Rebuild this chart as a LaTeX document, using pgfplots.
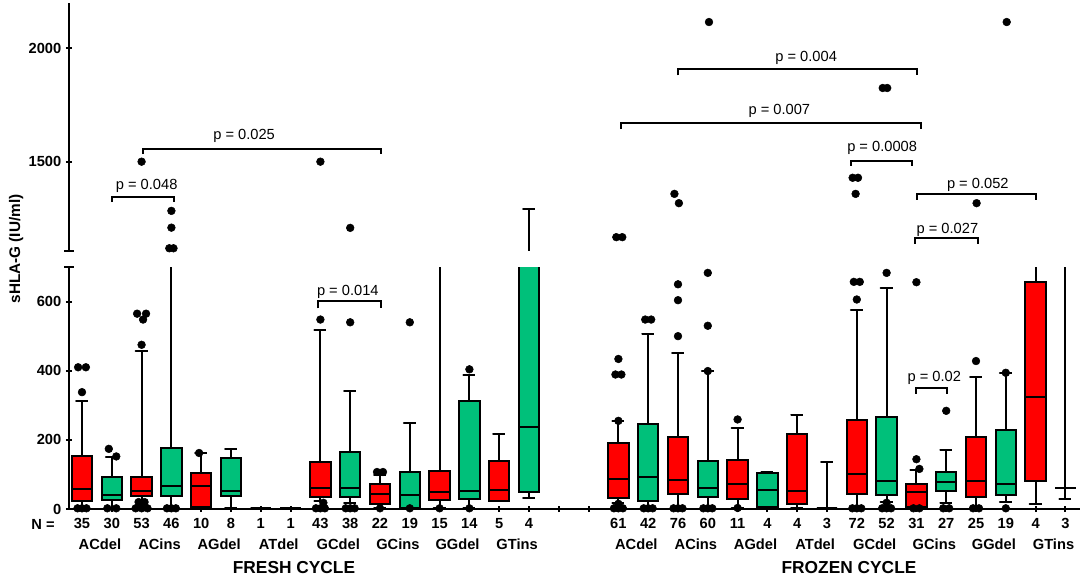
\documentclass[border=0pt]{standalone}
\usepackage{pgfplots}
\pgfplotsset{compat=1.18}
\usepackage{fontspec}
\setmainfont{Liberation Sans}
\definecolor{bred}{RGB}{255,0,0}
\definecolor{bgreen}{RGB}{0,192,122}
\newcommand{\bx}[7]{%
 \pgfmathsetmacro\xl{#1-0.34}\pgfmathsetmacro\xr{#1+0.34}%
 \pgfmathsetmacro\wl{#1-0.2}\pgfmathsetmacro\wr{#1+0.2}%
 \edef\doit{%
  \noexpand\addplot[fill=#7, draw=black, line width=1.5pt, line join=miter] coordinates {(\xl,#3) (\xr,#3) (\xr,#5) (\xl,#5) (\xl,#3) (\xr,#3)};
  \noexpand\addplot[draw=black, line width=1.5pt] coordinates {(\xl,#4) (\xr,#4)};
  \noexpand\addplot[draw=black, line width=1.5pt, line join=round, unbounded coords=jump] coordinates {(#1,#3) (#1,#2) (\wl,#2) (\wr,#2) (#1,nan) (#1,#5) (#1,#6) (\wl,#6) (\wr,#6)};
 }\doit}
\newcommand{\allboxes}{%
\bx{1}{3}{22}{59}{154}{313}{bred}
\bx{2}{3}{26}{40}{92}{151}{bgreen}
\bx{3}{22}{38}{51}{92}{457}{bred}
\bx{4}{3}{38}{66}{177}{1000}{bgreen}
\bx{5}{3}{7}{66}{105}{162}{bred}
\bx{6}{2}{38}{51}{147}{173}{bgreen}
\bx{7}{2}{2}{2}{2}{2}{bred}
\bx{8}{2}{2}{2}{2}{2}{bgreen}
\bx{9}{23}{36}{61}{136}{517}{bred}
\bx{10}{17}{34}{61}{164}{341}{bgreen}
\bx{11}{3}{14}{43}{72}{98}{bred}
\bx{12}{2}{2}{40}{106}{248}{bgreen}
\bx{13}{2}{25}{49}{110}{950}{bred}
\bx{14}{2}{30}{51}{313}{387}{bgreen}
\bx{15}{24}{24}{56}{139}{217}{bred}
\bx{16}{31}{49}{238}{1000}{1290}{bgreen}
\bx{19}{18}{31}{87}{190}{255}{bred}
\bx{20}{3}{22}{92}{246}{507}{bgreen}
\bx{21}{3}{42}{83}{208}{450}{bred}
\bx{22}{3}{34}{61}{139}{399}{bgreen}
\bx{23}{3}{29}{73}{142}{235}{bred}
\bx{24}{3}{6}{56}{103}{108}{bgreen}
\bx{25}{3}{14}{52}{217}{272}{bred}
\bx{26}{2}{2}{2}{2}{135}{bgreen}
\bx{27}{3}{44}{100}{256}{575}{bred}
\bx{28}{21}{40}{82}{267}{638}{bgreen}
\bx{29}{3}{7}{48}{73}{113}{bred}
\bx{30}{16}{53}{78}{106}{171}{bgreen}
\bx{31}{3}{34}{82}{208}{381}{bred}
\bx{32}{21}{40}{73}{228}{394}{bgreen}
\bx{33}{14}{80}{325}{657}{950}{bred}
\bx{34}{28}{60}{60}{60}{950}{bgreen}
}
\newcommand{\pfont}{\fontsize{11}{13}\selectfont}
\newcommand{\tfont}{\bfseries\fontsize{11}{13}\selectfont}
\pgfplotsset{myaxis/.style={
  scale only axis, width=758.25pt, xmin=0.564, xmax=34.49,
  tick align=outside, major tick length=4.5pt,
  tick style={line width=1.5pt, black},
  yticklabel style={font=\tfont},
  xticklabel style={font=\tfont, yshift=-1.5pt},
  /pgf/number format/assume math mode=true,
  /pgf/number format/1000 sep={},
  scaled y ticks=false,
  clip mode=individual,
  extra y tick style={tick align=center, major tick length=7pt},
},
noarrows/.style={
  every inner x axis line/.append style={-},
  every outer x axis line/.append style={-},
  every inner y axis line/.append style={-},
  every outer y axis line/.append style={-},
  axis line style={line width=1.5pt, -},
}}
\begin{document}
\begin{tikzpicture}
\useasboundingbox (-51.75pt,-51.75pt) rectangle (761.25pt,381.75pt);
% upper segment
\begin{axis}[myaxis, at={(0,193.5pt)}, height=186pt, ymin=1106, ymax=2200,
  axis y line=left, axis x line=none, xtick=\empty, noarrows,
  ytick={1500,2000}, extra y ticks={1106}, extra y tick labels={}]
\allboxes
\addplot[only marks, mark=*, mark size=2.9pt, black] coordinates {
(3,1500) (4,1283) (4,1209) (3.93,1118) (4.07,1118) (9,1500) (10,1208)
(18.93,1167) (19.13,1167) (20.88,1358) (21.03,1317) (22.04,2116)
(26.86,1429) (27.04,1429) (26.96,1358) (27.87,1825) (28.02,1825)
(31.02,1317) (32.03,2116)
};
\draw[line width=1.5pt] (axis cs:2.0,1322) -- (axis cs:2.0,1346) -- (axis cs:4.1,1346) -- (axis cs:4.1,1322);
\node[anchor=base,font=\pfont] at (axis cs:3.17,1376) {p = 0.048};
\draw[line width=1.5pt] (axis cs:3.04,1533) -- (axis cs:3.04,1556) -- (axis cs:11.02,1556) -- (axis cs:11.02,1533);
\node[anchor=base,font=\pfont] at (axis cs:6.44,1596) {p = 0.025};
\draw[line width=1.5pt] (axis cs:21.01,1881) -- (axis cs:21.01,1907) -- (axis cs:29.03,1907) -- (axis cs:29.03,1881);
\node[anchor=base,font=\pfont] at (axis cs:25.3,1944) {p = 0.004};
\draw[line width=1.5pt] (axis cs:19.09,1644) -- (axis cs:19.09,1669) -- (axis cs:29.14,1669) -- (axis cs:29.14,1644);
\node[anchor=base,font=\pfont] at (axis cs:24.4,1706) {p = 0.007};
\draw[line width=1.5pt] (axis cs:26.79,1481) -- (axis cs:26.79,1504) -- (axis cs:28.85,1504) -- (axis cs:28.85,1481);
\node[anchor=base,font=\pfont] at (axis cs:27.85,1544) {p = 0.0008};
\draw[line width=1.5pt] (axis cs:29.02,1331) -- (axis cs:29.02,1356) -- (axis cs:33.0,1356) -- (axis cs:33.0,1331);
\node[anchor=base,font=\pfont] at (axis cs:31.06,1381) {p = 0.052};
\draw[line width=1.5pt] (axis cs:28.95,1138) -- (axis cs:28.95,1165) -- (axis cs:31.08,1165) -- (axis cs:31.08,1138);
\node[anchor=base,font=\pfont] at (axis cs:30.04,1185) {p = 0.027};
\end{axis}
% lower segment
\begin{axis}[myaxis, at={(0,0)}, height=181.5pt, ymin=0, ymax=700,
  axis x line=bottom, axis y line=left, noarrows,
  xtick={1,...,34},
  xticklabels={35,30,53,46,10,8,1,1,43,38,22,19,15,14,5,4,{},{},61,42,76,60,11,4,4,3,72,52,31,27,25,19,4,3},
  ytick={0,200,400,600}, extra y ticks={700}, extra y tick labels={}]
\allboxes
\addplot[only marks, mark=*, mark size=2.9pt, black] coordinates {
(0.87,410) (1.13,410) (1,338) (0.85,2) (1,2) (1.15,2)
(1.9,174) (2.15,152) (1.85,2) (2.15,2)
(2.85,565) (3.15,565) (3.05,548) (3,475) (2.9,20) (3.1,20) (2.8,2) (3,2) (3.2,2)
(3.85,2) (4,2) (4.15,2)
(4.93,162)
(9,548) (9.1,18) (8.85,2) (9,2) (9.15,2)
(10,540) (9.85,2) (10,2) (10.15,2)
(10.9,107) (11.1,107) (11,2)
(12,540) (12,2)
(13,2)
(14,404) (14,2)
(19,255) (18.9,389) (19.1,389) (19,434) (19,15) (18.85,2) (19,2) (19.15,2)
(19.9,548) (20.1,548) (19.85,2) (20,2) (20.15,2)
(21,500) (21,604) (21,650) (20.85,2) (21,2) (21.15,2)
(22,530) (22,399) (22,683) (21.85,2) (22,2) (22.15,2)
(23,259) (23,3)
(27,606) (26.9,657) (27.1,657) (26.85,2) (27,2) (27.15,2)
(28,683) (28,18) (27.85,2) (28,2) (28.15,2)
(29,144) (29.1,116) (29,656) (28.9,2) (29.1,2)
(30,284) (29.9,2) (30.1,2)
(31,428) (30.9,2) (31.1,2)
(32,394) (32,2)
};
\draw[line width=1.5pt] (axis cs:8.92,580) -- (axis cs:8.92,601) -- (axis cs:11.02,601) -- (axis cs:11.02,580);
\node[anchor=base,font=\pfont] at (axis cs:9.92,618) {p = 0.014};
\draw[line width=1.5pt] (axis cs:28.99,334) -- (axis cs:28.99,351) -- (axis cs:30.04,351) -- (axis cs:30.04,334);
\node[anchor=base,font=\pfont] at (axis cs:29.6,368) {p = 0.02};
\end{axis}
\foreach \lab [count=\k from 0] in {ACdel,ACins,AGdel,ATdel,GCdel,GCins,GGdel,GTins} {
  \node[anchor=base,font=\tfont] at ({(16+(2*\k+0.5)*29.8)*0.75pt},-30pt) {\lab};
  \node[anchor=base,font=\tfont] at ({(16+(18.5+2*\k)*29.8)*0.75pt},-30pt) {\lab};
}
\node[anchor=base,font=\tfont] at (-19.5pt,-15.2pt) {N =};
\node[anchor=base,font=\bfseries\fontsize{13}{15}\selectfont] at (168.75pt,-48.2pt) {FRESH CYCLE};
\node[anchor=base,font=\bfseries\fontsize{13}{15}\selectfont] at (585pt,-48.2pt) {FROZEN CYCLE};
\node[anchor=base,rotate=90,font=\bfseries\fontsize{11.5}{13}\selectfont] at (-36.75pt,195pt) {sHLA-G (IU/ml)};
\end{tikzpicture}
\end{document}
